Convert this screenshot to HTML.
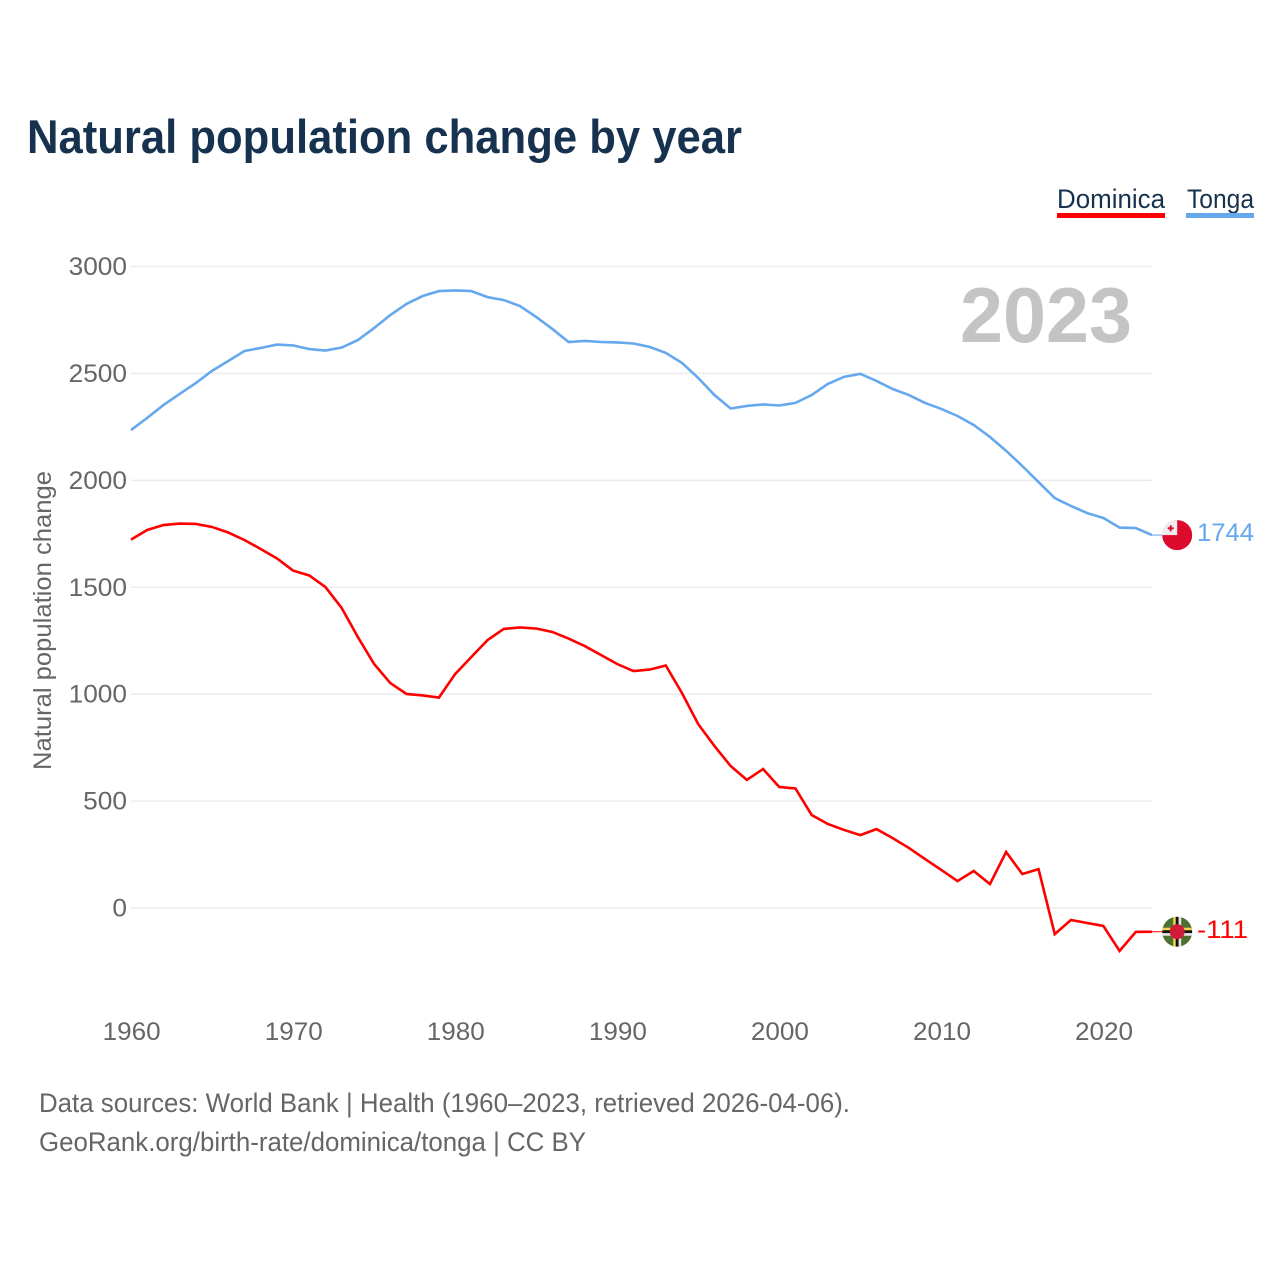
<!DOCTYPE html>
<html lang="en">
<head>
<meta charset="utf-8">
<title>Natural population change by year</title>
<style>
html,body{margin:0;padding:0;background:#fff;width:1280px;height:1280px;overflow:hidden}
svg{display:block}
text{font-family:"Liberation Sans",sans-serif}
</style>
</head>
<body>
<svg id="chart" width="1280" height="1280" viewBox="0 0 1280 1280" xmlns="http://www.w3.org/2000/svg">
  <defs>
    <clipPath id="flag-clip"><circle cx="0" cy="0" r="15"/></clipPath>
  </defs>
  <text x="27" y="153" font-size="47" font-weight="700" fill="#17324f" textLength="715" lengthAdjust="spacingAndGlyphs">Natural population change by year</text>

  <g>
    <g>
      <text x="1057" y="208" font-size="27" fill="#17324f" textLength="108" lengthAdjust="spacingAndGlyphs">Dominica</text>
      <rect x="1057" y="213" width="108" height="5" fill="#ff0000"/>
    </g>
    <g>
      <text x="1187" y="208" font-size="27" fill="#17324f" textLength="67" lengthAdjust="spacingAndGlyphs">Tonga</text>
      <rect x="1186" y="213" width="68" height="5" fill="#65a8ee"/>
    </g>
  </g>

  <g id="grid"></g>
  <g id="y-ticks"></g>
  <g id="x-ticks"></g>

  <text transform="translate(51 770) rotate(-90)" x="0" y="0" font-size="25" fill="#666666" textLength="299" lengthAdjust="spacingAndGlyphs">Natural population change</text>
  <text x="960" y="342" font-size="78" font-weight="700" fill="#c4c4c4" textLength="172" lengthAdjust="spacingAndGlyphs">2023</text>

  <g id="series"></g>

  <g id="flag-tonga">
    <g clip-path="url(#flag-clip)">
      <rect x="-15" y="-15" width="30" height="30" fill="#dc0a2d"/>
      <rect x="-15" y="-15" width="15" height="15" fill="#eeeeee"/>
      <rect x="-9.5" y="-7.8" width="6" height="2" fill="#dc0a2d"/>
      <rect x="-7.5" y="-9.8" width="2" height="6" fill="#dc0a2d"/>
    </g>
  </g>
  <g id="flag-dominica">
    <g clip-path="url(#flag-clip)">
      <rect x="-15" y="-15" width="30" height="30" fill="#4e7030"/>
      <rect x="-15" y="-4" width="30" height="2.6" fill="#f2d34b"/>
      <rect x="-15" y="-1.4" width="30" height="2.8" fill="#111111"/>
      <rect x="-15" y="1.4" width="30" height="2.6" fill="#e8e8e8"/>
      <rect x="-4" y="-15" width="2.6" height="30" fill="#f2d34b"/>
      <rect x="-1.4" y="-15" width="2.8" height="30" fill="#111111"/>
      <rect x="1.4" y="-15" width="2.6" height="30" fill="#e8e8e8"/>
      <circle cx="0" cy="0" r="7.5" fill="#d01c3a"/>
    </g>
  </g>

  <text id="value-tonga" x="1197" font-size="25" fill="#65a8ee" textLength="57" lengthAdjust="spacingAndGlyphs"></text>
  <text id="value-dominica" x="1197" font-size="25" fill="#ff0000" textLength="51" lengthAdjust="spacingAndGlyphs"></text>

  <text x="39" y="1112" font-size="27" fill="#666666" textLength="811" lengthAdjust="spacingAndGlyphs">Data sources: World Bank | Health (1960–2023, retrieved 2026-04-06).</text>
  <text x="39" y="1151" font-size="27" fill="#666666" textLength="547" lengthAdjust="spacingAndGlyphs">GeoRank.org/birth-rate/dominica/tonga | CC BY</text>
</svg>
<script>
var startYear = 1960;
var xTickLabels = [1960, 1970, 1980, 1990, 2000, 2010, 2020];
var yTickLabels = [0, 500, 1000, 1500, 2000, 2500, 3000];
var tongaValues = [2235,2292,2352,2404,2455,2512,2558,2605,2619,2635,2631,2614,2607,2621,2656,2712,2773,2825,2862,2885,2888,2885,2857,2843,2815,2764,2708,2647,2652,2647,2645,2640,2624,2596,2549,2479,2399,2336,2348,2355,2350,2362,2399,2451,2484,2498,2465,2427,2399,2362,2334,2301,2259,2203,2138,2067,1992,1917,1880,1847,1824,1779,1777,1744];
var dominicaValues = [1723,1768,1791,1798,1796,1782,1756,1721,1679,1635,1578,1555,1501,1403,1267,1141,1052,1001,994,984,1094,1174,1253,1305,1312,1307,1291,1260,1225,1183,1141,1108,1115,1134,1005,860,758,664,599,650,566,559,435,393,365,341,369,327,281,229,178,126,173,112,262,159,182,-122,-56,-70,-84,-201,-112,-111];

function xScale(year) { return 131 + (year - 1960) * 16.206; }
function yScale(value) { return 908 - value * 0.21383; }

var NS = 'http://www.w3.org/2000/svg';
var gridGroup = document.getElementById('grid');
var yTickGroup = document.getElementById('y-ticks');
var xTickGroup = document.getElementById('x-ticks');
var seriesGroup = document.getElementById('series');

yTickLabels.forEach(function (tick) {
  var line = document.createElementNS(NS, 'line');
  
  
  line.setAttribute('x1', xScale(1960));
  line.setAttribute('x2', xScale(2023));
  line.setAttribute('y1', yScale(tick));
  line.setAttribute('y2', yScale(tick));
  line.setAttribute('stroke', '#ececec');
  line.setAttribute('stroke-width', '1.5');
  gridGroup.appendChild(line);

  var label = document.createElementNS(NS, 'text');
  
  
  label.setAttribute('x', 127);
  label.setAttribute('y', yScale(tick) + 8.5);
  label.setAttribute('text-anchor', 'end');
  label.setAttribute('font-size', '25');
  label.setAttribute('fill', '#666666');
  label.setAttribute('textLength', 14.6 * String(tick).length);
  label.setAttribute('lengthAdjust', 'spacingAndGlyphs');
  label.textContent = tick;
  yTickGroup.appendChild(label);
});

xTickLabels.forEach(function (tick) {
  var label = document.createElementNS(NS, 'text');
  
  
  label.setAttribute('x', xScale(tick) + 0.7);
  label.setAttribute('y', 1040);
  label.setAttribute('text-anchor', 'middle');
  label.setAttribute('font-size', '25');
  label.setAttribute('fill', '#666666');
  label.setAttribute('textLength', '58');
  label.setAttribute('lengthAdjust', 'spacingAndGlyphs');
  label.textContent = tick;
  xTickGroup.appendChild(label);
});

function linePath(values) {
  return values.map(function (value, i) {
    return (i ? 'L' : 'M') + xScale(startYear + i).toFixed(2) + ' ' + yScale(value).toFixed(2);
  }).join('');
}

var dominicaLine = document.createElementNS(NS, 'path');


dominicaLine.setAttribute('d', linePath(dominicaValues));
dominicaLine.setAttribute('fill', 'none');
dominicaLine.setAttribute('stroke', '#ff0000');
dominicaLine.setAttribute('stroke-width', '2.6');
seriesGroup.appendChild(dominicaLine);

var tongaLine = document.createElementNS(NS, 'path');


tongaLine.setAttribute('d', linePath(tongaValues));
tongaLine.setAttribute('fill', 'none');
tongaLine.setAttribute('stroke', '#65a8ee');
tongaLine.setAttribute('stroke-width', '2.6');
seriesGroup.appendChild(tongaLine);

var tongaLast = tongaValues[tongaValues.length - 1];
var dominicaLast = dominicaValues[dominicaValues.length - 1];
var lastX = xScale(startYear + tongaValues.length - 1);

var tongaConnector = document.createElementNS(NS, 'line');


tongaConnector.setAttribute('x1', lastX);
tongaConnector.setAttribute('x2', 1162);
tongaConnector.setAttribute('y1', yScale(tongaLast));
tongaConnector.setAttribute('y2', yScale(tongaLast));
tongaConnector.setAttribute('stroke', '#65a8ee');
tongaConnector.setAttribute('stroke-width', '1');
seriesGroup.appendChild(tongaConnector);

var dominicaConnector = document.createElementNS(NS, 'line');


dominicaConnector.setAttribute('x1', lastX);
dominicaConnector.setAttribute('x2', 1162);
dominicaConnector.setAttribute('y1', yScale(dominicaLast));
dominicaConnector.setAttribute('y2', yScale(dominicaLast));
dominicaConnector.setAttribute('stroke', '#ff0000');
dominicaConnector.setAttribute('stroke-width', '1');
seriesGroup.appendChild(dominicaConnector);

document.getElementById('flag-tonga').setAttribute('transform', 'translate(1177.2 ' + yScale(tongaLast) + ')');
document.getElementById('flag-dominica').setAttribute('transform', 'translate(1177.2 ' + yScale(dominicaLast) + ')');

var tongaValueLabel = document.getElementById('value-tonga');
tongaValueLabel.setAttribute('y', yScale(tongaLast) + 6);
tongaValueLabel.textContent = tongaLast;

var dominicaValueLabel = document.getElementById('value-dominica');
dominicaValueLabel.setAttribute('y', yScale(dominicaLast) + 6.5);
dominicaValueLabel.textContent = dominicaLast;
</script>
</body>
</html>
